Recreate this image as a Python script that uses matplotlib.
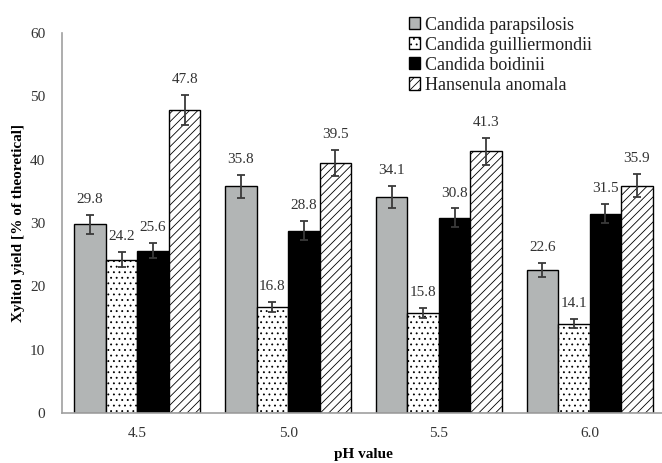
import matplotlib
matplotlib.use("Agg")
import matplotlib.pyplot as plt
import numpy as np

plt.rcParams['font.family'] = ['Liberation Serif', 'DejaVu Serif']
plt.rcParams['hatch.linewidth'] = 0.6

categories = ["4.5", "5.0", "5.5", "6.0"]
series_names = ["Candida parapsilosis", "Candida guilliermondii", "Candida boidinii", "Hansenula anomala"]
parapsilosis = [29.8, 35.8, 34.1, 22.6]
guilliermondii = [24.2, 16.8, 15.8, 14.1]
boidinii = [25.6, 28.8, 30.8, 31.5]
anomala = [47.8, 39.5, 41.3, 35.9]
err_parapsilosis = [1.5, 1.8, 1.7, 1.1]
err_guilliermondii = [1.2, 0.8, 0.8, 0.7]
err_boidinii = [1.2, 1.5, 1.5, 1.5]
err_anomala = [2.4, 2.0, 2.1, 1.8]

values = [parapsilosis, guilliermondii, boidinii, anomala]
errors = [err_parapsilosis, err_guilliermondii, err_boidinii, err_anomala]
colors = ['#B2B5B5', 'white', 'black', 'white']
hatches = [None, '...', None, '////']

fig = plt.figure(figsize=(6.62, 4.63), dpi=100)
ax = fig.add_axes([62/662, 1-413/463, 603/662, 380/463])

x = np.arange(len(categories))
w = 0.209
text_color = '#333333'
for i in range(4):
    pos = x + (i - 1.5) * w
    ax.bar(pos, values[i], width=w, color=colors[i], edgecolor='black',
           linewidth=1.0, hatch=hatches[i], label=series_names[i], zorder=2)
    ax.errorbar(pos, values[i], yerr=errors[i], fmt='none', ecolor='#3a3a3a',
                elinewidth=1.3, capsize=3, capthick=1.3, zorder=3)
    for p, v, e in zip(pos, values[i], errors[i]):
        ax.annotate(f"{v:.1f}", (p, v + e), xytext=(0, 11), textcoords='offset points',
                    ha='center', va='center', fontsize=11, color=text_color)

ax.set_xlim(-0.5, 3.5)
ax.set_ylim(0, 60)
ax.set_yticks(range(0, 61, 10))
ax.set_xticks(x)
ax.set_xticklabels(categories)
ax.tick_params(axis='both', length=0, labelsize=11, labelcolor=text_color)
ax.tick_params(axis='y', pad=12)
ax.tick_params(axis='x', pad=10)
for s in ['top', 'right']:
    ax.spines[s].set_visible(False)
for s in ['left', 'bottom']:
    ax.spines[s].set_color('#A0A0A0')
    ax.spines[s].set_linewidth(1.2)

ax.set_ylabel("Xylitol yield [% of theoretical]", fontsize=11, fontweight='bold', labelpad=4)
ax.set_xlabel("pH value", fontsize=11, fontweight='bold', labelpad=6)

leg = ax.legend(loc='upper left', bbox_to_anchor=(405/662, 1 - 13/463), bbox_transform=fig.transFigure,
                frameon=False, fontsize=13, handlelength=0.65, handleheight=0.65,
                handletextpad=0.25, labelspacing=0.17, borderaxespad=0.0, borderpad=0.2)
for t in leg.get_texts():
    t.set_color('#222222')

fig.savefig("out.png", dpi=100)
